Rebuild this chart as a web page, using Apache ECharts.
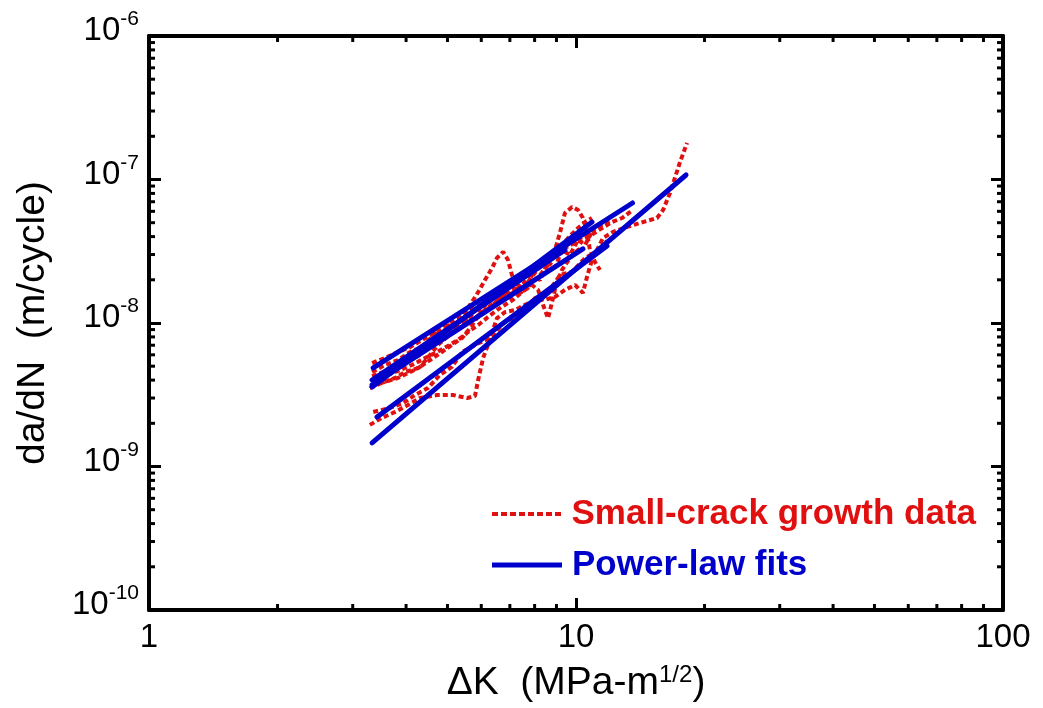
<!DOCTYPE html>
<html>
<head>
<meta charset="utf-8">
<script src="https://cdn.jsdelivr.net/npm/echarts@6/dist/echarts.min.js"></script>
<style>
html, body { margin: 0; padding: 0; background: #ffffff; }
#chart { width: 1043px; height: 708px; }
</style>
</head>
<body>
<div id="chart"></div>
<script>
// ---------- axis ticks ----------
const xMajorTicks = [1, 10, 100];
const yMajorTicks = [1e-10, 1e-9, 1e-8, 1e-7, 1e-6];
const xMinorTicks = [2, 3, 4, 5, 6, 7, 8, 9, 20, 30, 40, 50, 60, 70, 80, 90];
const yMinorTicks = [2e-10, 3e-10, 4e-10, 5e-10, 6e-10, 7e-10, 8e-10, 9e-10,
                     2e-9, 3e-9, 4e-9, 5e-9, 6e-9, 7e-9, 8e-9, 9e-9,
                     2e-8, 3e-8, 4e-8, 5e-8, 6e-8, 7e-8, 8e-8, 9e-8,
                     2e-7, 3e-7, 4e-7, 5e-7, 6e-7, 7e-7, 8e-7, 9e-7];

// ---------- small-crack growth data (dK in MPa-m^1/2, da/dN in m/cycle) ----------
const crackDK1 = [3.29, 3.51, 3.77, 4.04, 4.31, 4.73, 5.15, 5.56, 5.80, 5.90, 6.06, 6.22, 6.36, 6.53, 6.82, 7.20, 7.60, 8.02, 8.46, 8.93, 9.42, 9.95, 10.38, 10.61, 10.78, 10.96, 11.20, 11.57, 12.21, 13.17, 14.12, 15.48, 15.99, 16.60, 17.52, 18.20];
const crackRate1 = [1.95e-9, 2.18e-9, 2.40e-9, 2.68e-9, 3.00e-9, 3.15e-9, 3.15e-9, 3.00e-9, 3.10e-9, 4.01e-9, 5.70e-9, 7.03e-9, 8.52e-9, 1.08e-8, 1.19e-8, 1.23e-8, 1.34e-8, 1.45e-8, 1.45e-8, 1.52e-8, 1.70e-8, 1.84e-8, 1.62e-8, 2.09e-8, 2.46e-8, 2.88e-8, 3.23e-8, 3.91e-8, 4.31e-8, 4.67e-8, 4.98e-8, 5.39e-8, 6.13e-8, 8.05e-8, 1.32e-7, 1.80e-7];

const crackDK2 = [3.35, 3.67, 3.94, 4.20, 4.50, 4.80, 5.12, 5.41, 5.80, 6.29, 6.82, 7.40, 8.02, 8.60, 9.18, 9.79, 10.50, 11.20, 11.82];
const crackRate2 = [2.40e-9, 2.56e-9, 2.77e-9, 3.15e-9, 3.52e-9, 4.34e-9, 4.94e-9, 6.28e-9, 7.03e-9, 7.86e-9, 1.02e-8, 1.14e-8, 1.49e-8, 1.64e-8, 2.16e-8, 2.27e-8, 2.84e-8, 3.13e-8, 3.73e-8];

const crackDK3 = [3.33, 3.57, 3.83, 4.09, 4.36, 4.67, 4.99, 5.29, 5.59, 5.90, 6.22, 6.57, 6.93, 7.32, 7.72, 8.24, 8.79, 9.42, 10.11, 10.78, 11.51, 12.14, 12.82, 13.60];
const crackRate3 = [5.26e-9, 5.70e-9, 6.28e-9, 6.80e-9, 7.61e-9, 8.52e-9, 9.68e-9, 1.08e-8, 1.23e-8, 1.31e-8, 1.45e-8, 1.59e-8, 1.75e-8, 1.99e-8, 2.27e-8, 2.62e-8, 2.98e-8, 3.33e-8, 3.73e-8, 4.04e-8, 4.59e-8, 5.05e-8, 5.39e-8, 6.13e-8];

const crackDK4 = [3.29, 3.51, 3.77, 3.98, 4.27, 4.55, 4.85, 5.12, 5.41, 5.65, 5.86, 6.12, 6.36, 6.64, 6.93, 7.20, 7.43, 7.72, 8.10, 8.46, 8.84, 9.27, 9.68, 10.11, 10.50, 10.90];
const crackRate4 = [3.52e-9, 3.82e-9, 4.14e-9, 4.55e-9, 4.86e-9, 5.52e-9, 6.28e-9, 7.03e-9, 7.86e-9, 9.23e-9, 1.08e-8, 1.19e-8, 1.34e-8, 1.45e-8, 1.64e-8, 1.75e-8, 1.62e-8, 1.93e-8, 2.34e-8, 2.66e-8, 3.13e-8, 3.50e-8, 4.04e-8, 4.59e-8, 5.05e-8, 5.39e-8];

const crackDK5 = [3.33, 3.57, 3.87, 4.13, 4.43, 4.73, 5.01, 5.29, 5.59, 5.90, 6.22, 6.53, 6.82, 7.12, 7.43, 7.80, 8.24, 8.60, 8.93, 9.18, 9.42, 9.79, 10.11, 10.38, 10.61, 10.78, 11.08, 11.38];
const crackRate5 = [4.01e-9, 4.27e-9, 4.70e-9, 5.10e-9, 5.70e-9, 6.28e-9, 6.91e-9, 7.61e-9, 8.66e-9, 9.68e-9, 1.10e-8, 1.23e-8, 1.34e-8, 1.45e-8, 1.62e-8, 1.84e-8, 2.16e-8, 2.54e-8, 3.23e-8, 4.31e-8, 5.84e-8, 6.43e-8, 6.13e-8, 5.39e-8, 4.31e-8, 3.23e-8, 2.66e-8, 2.34e-8];

const crackDK6 = [3.33, 3.57, 3.83, 4.09, 4.31, 4.55, 4.75, 4.96, 5.21, 5.50, 5.80, 6.12, 6.46, 6.82, 7.20, 7.60, 7.89, 8.15, 8.37, 8.60, 8.79, 8.98, 9.27, 9.68, 10.11, 10.38];
const crackRate6 = [3.70e-9, 3.88e-9, 4.14e-9, 4.55e-9, 4.94e-9, 5.98e-9, 7.03e-9, 7.86e-9, 8.94e-9, 1.02e-8, 1.08e-8, 1.23e-8, 1.40e-8, 1.54e-8, 1.64e-8, 1.70e-8, 1.84e-8, 1.70e-8, 1.34e-8, 1.08e-8, 1.40e-8, 1.84e-8, 2.34e-8, 2.84e-8, 3.23e-8, 3.33e-8];

const crackDK7 = [3.33, 3.53, 3.77, 4.02, 4.27, 4.50, 4.73, 4.96, 5.21, 5.44, 5.65, 5.90, 6.12, 6.36, 6.53, 6.75, 6.93, 7.08, 7.32, 7.60, 7.89, 8.24, 8.69, 9.18, 9.68, 10.22, 10.78, 11.38, 12.01];
const crackRate7 = [4.27e-9, 4.55e-9, 4.94e-9, 5.35e-9, 5.89e-9, 6.80e-9, 7.61e-9, 8.66e-9, 9.68e-9, 1.14e-8, 1.34e-8, 1.64e-8, 1.99e-8, 2.42e-8, 2.84e-8, 3.13e-8, 2.75e-8, 2.16e-8, 1.75e-8, 1.93e-8, 2.34e-8, 2.62e-8, 2.84e-8, 3.23e-8, 3.61e-8, 3.91e-8, 4.31e-8, 4.74e-8, 5.14e-8];

const crackDK8 = [3.33, 3.57, 3.83, 4.09, 4.31, 4.50, 4.70, 4.85, 5.01, 5.21, 5.41, 5.59, 5.80, 6.02, 6.22, 6.46, 6.71, 7.00, 7.32, 7.60, 7.89, 8.24, 8.60, 8.93, 9.27, 9.68, 10.11, 10.50, 10.90];
const crackRate8 = [4.55e-9, 5.10e-9, 5.52e-9, 6.28e-9, 6.70e-9, 7.37e-9, 8.94e-9, 8.25e-9, 9.68e-9, 9.23e-9, 1.08e-8, 1.02e-8, 1.27e-8, 1.19e-8, 1.45e-8, 1.34e-8, 1.64e-8, 1.49e-8, 1.84e-8, 1.70e-8, 2.16e-8, 1.99e-8, 2.66e-8, 2.42e-8, 3.23e-8, 2.98e-8, 3.79e-8, 3.50e-8, 4.31e-8];

// ---------- power-law fits (end points of each straight log-log fit) ----------
const fitStartDK   = [3.33, 3.42, 3.35, 3.33, 3.33, 3.33];
const fitEndDK     = [18.10, 11.82, 13.56, 10.90, 10.38, 9.42];
const fitStartRate = [1.46e-9, 2.21e-9, 4.86e-9, 3.58e-9, 3.70e-9, 4.01e-9];
const fitEndRate   = [1.075e-7, 3.44e-8, 6.86e-8, 5.05e-8, 3.28e-8, 3.23e-8];

// ---------- labels ----------
const dataName = 'Small-crack growth data';
const fitName = 'Power-law fits';
const xTitle = '{a|\u0394K  (MPa-m}{s|1/2}{a|)}';
const yTitle = 'da/dN  (m/cycle)';

const RED = '#e01010';
const BLUE = '#0000cc';
const FONT = "'Liberation Sans', Arial, Helvetica, sans-serif";

const crackDK = [crackDK1, crackDK2, crackDK3, crackDK4, crackDK5, crackDK6, crackDK7, crackDK8];
const crackRate = [crackRate1, crackRate2, crackRate3, crackRate4, crackRate5, crackRate6, crackRate7, crackRate8];

const series = [];
crackDK.forEach(function (dk, i) {
  series.push({
    type: 'line',
    name: dataName,
    data: dk.map(function (v, j) { return [v, crackRate[i][j]]; }),
    smooth: false,
    symbol: 'none',
    showSymbol: false,
    silent: true,
    color: RED,
    itemStyle: { color: RED, borderWidth: 0 },
    lineStyle: { color: RED, width: 4, type: [5, 3] },
    z: 2
  });
});
fitStartDK.forEach(function (x0, i) {
  series.push({
    type: 'line',
    name: fitName,
    data: [[x0, fitStartRate[i]], [fitEndDK[i], fitEndRate[i]]],
    smooth: false,
    symbol: 'none',
    showSymbol: false,
    silent: true,
    color: BLUE,
    itemStyle: { color: BLUE, borderWidth: 0 },
    lineStyle: { color: BLUE, width: 5, cap: 'round' },
    z: 3
  });
});

const X_MIN = xMajorTicks[0], X_MAX = xMajorTicks[xMajorTicks.length - 1];
const Y_MIN = yMajorTicks[0], Y_MAX = yMajorTicks[yMajorTicks.length - 1];
const MINOR_LEN = 6;
const tickStyle = { stroke: '#000', lineWidth: 3 };

series.push({
  type: 'custom',
  silent: true,
  clip: false,
  z: 5,
  data: xMinorTicks.map(function (v) { return [v, 1e-8]; }),
  renderItem: function (params, api) {
    const v = api.value(0);
    const b = api.coord([v, Y_MIN]);
    const t = api.coord([v, Y_MAX]);
    return { type: 'group', children: [
      { type: 'line', shape: { x1: b[0], y1: b[1], x2: b[0], y2: b[1] - MINOR_LEN }, style: tickStyle },
      { type: 'line', shape: { x1: t[0], y1: t[1], x2: t[0], y2: t[1] + MINOR_LEN }, style: tickStyle }
    ] };
  }
});
series.push({
  type: 'custom',
  silent: true,
  clip: false,
  z: 5,
  data: yMinorTicks.map(function (v) { return [3, v]; }),
  renderItem: function (params, api) {
    const v = api.value(1);
    const l = api.coord([X_MIN, v]);
    const r = api.coord([X_MAX, v]);
    return { type: 'group', children: [
      { type: 'line', shape: { x1: l[0], y1: l[1], x2: l[0] + MINOR_LEN, y2: l[1] }, style: tickStyle },
      { type: 'line', shape: { x1: r[0], y1: r[1], x2: r[0] - MINOR_LEN, y2: r[1] }, style: tickStyle }
    ] };
  }
});

const axisLine = { show: true, lineStyle: { color: '#000', width: 4 } };
const axisTick = { show: true, inside: true, length: 12, lineStyle: { color: '#000', width: 3 } };

const RED_ICON = 'path://M0,0h6v4h-6z M9,0h6v4h-6z M18,0h6v4h-6z M27,0h6v4h-6z M36,0h6v4h-6z M45,0h6v4h-6z M54,0h6v4h-6z M63,0h6v4h-6z';

const option = {
  animation: false,
  backgroundColor: '#ffffff',
  grid: { left: 149, right: 40, top: 36, bottom: 98, containLabel: false },
  xAxis: [
    {
      type: 'log', logBase: 10, min: X_MIN, max: X_MAX, position: 'bottom',
      axisLine: axisLine, axisTick: axisTick, splitLine: { show: false },
      axisLabel: { fontSize: 33, fontFamily: FONT, color: '#000', margin: 8, lineHeight: 40 },
      name: xTitle, nameLocation: 'middle', nameGap: 50,
      nameTextStyle: {
        rich: {
          a: { fontSize: 39, fontFamily: FONT, color: '#000', lineHeight: 40, verticalAlign: 'middle' },
          s: { fontSize: 24, fontFamily: FONT, color: '#000', lineHeight: 23, verticalAlign: 'top' }
        }
      }
    },
    {
      type: 'log', logBase: 10, min: X_MIN, max: X_MAX, position: 'top',
      axisLine: axisLine, axisTick: axisTick, splitLine: { show: false },
      axisLabel: { show: false }
    }
  ],
  yAxis: [
    {
      type: 'log', logBase: 10, min: Y_MIN, max: Y_MAX, position: 'left',
      axisLine: axisLine, axisTick: axisTick, splitLine: { show: false },
      axisLabel: {
        margin: 10,
        padding: [0, 0, 10, 0],
        formatter: function (v) {
          const e = Math.round(Math.log10(v));
          return '{b|10}{s|' + e + '}';
        },
        rich: {
          b: { fontSize: 33, fontFamily: FONT, color: '#000', lineHeight: 44, verticalAlign: 'middle' },
          s: { fontSize: 21, fontFamily: FONT, color: '#000', lineHeight: 14, verticalAlign: 'top' }
        }
      }
    },
    {
      type: 'log', logBase: 10, min: Y_MIN, max: Y_MAX, position: 'right',
      axisLine: axisLine, axisTick: axisTick, splitLine: { show: false },
      axisLabel: { show: false }
    }
  ],
  legend: [
    {
      data: [{ name: dataName, icon: RED_ICON, textStyle: { color: RED } }],
      left: 492, top: 494, padding: 0, orient: 'vertical', selectedMode: false,
      itemWidth: 70, itemHeight: 4,
      itemStyle: { borderWidth: 0 },
      textStyle: { fontSize: 35, fontWeight: 'bold', fontFamily: FONT, lineHeight: 40, padding: [0, 0, 0, 5] }
    },
    {
      data: [{ name: fitName, icon: 'rect', textStyle: { color: BLUE } }],
      left: 492, top: 545, padding: 0, orient: 'vertical', selectedMode: false,
      itemWidth: 70, itemHeight: 5,
      itemStyle: { borderWidth: 0 },
      textStyle: { fontSize: 35, fontWeight: 'bold', fontFamily: FONT, lineHeight: 40, padding: [0, 0, 0, 5] }
    }
  ],
  graphic: [
    {
      type: 'text',
      x: 33, y: 323,
      rotation: Math.PI / 2,
      silent: true,
      style: { text: yTitle, fontSize: 39, fontFamily: FONT, fill: '#000', textAlign: 'center', textVerticalAlign: 'middle' }
    }
  ],
  series: series
};

const chart = echarts.init(document.getElementById('chart'), null, { renderer: 'canvas' });
chart.setOption(option);
</script>
</body>
</html>
